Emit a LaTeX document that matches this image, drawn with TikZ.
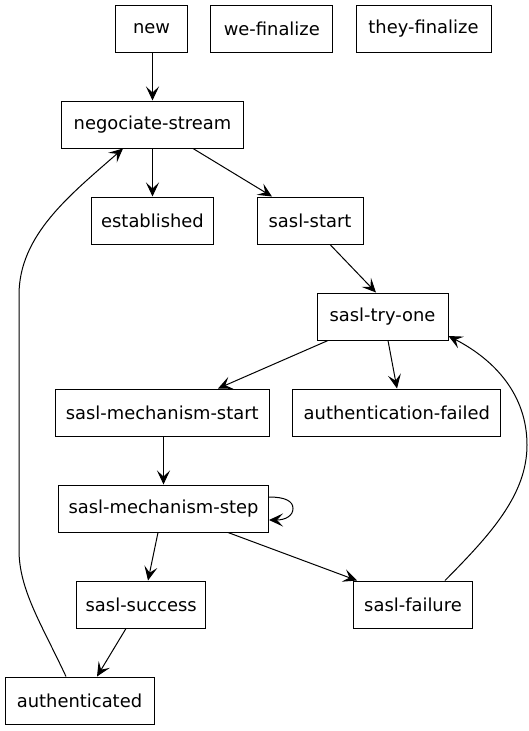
\documentclass[tikz,border=0pt]{standalone}
\usepackage{fontspec}
\setmainfont{DejaVu Sans}
\usetikzlibrary{arrows.meta}
\begin{document}
\begin{tikzpicture}[x=1pt,y=-1pt,
  state/.style={draw,line width=1pt,rectangle,minimum height=47pt,
    inner xsep=0pt,font=\fontsize{17.9}{20}\selectfont},
  edge/.style={line width=1pt,-{Stealth[length=14pt,width=13pt,inset=6pt]}}]
\useasboundingbox (0,0) rectangle (528,731);
\node[state,minimum width=71.7pt] (new) at (151.5,28.5) {new};
\node[state,minimum width=121.7pt] (wef) at (271.8,28.5) {we-finalize};
\node[state,minimum width=135pt] (tf) at (423.5,28.5) {they-finalize};
\node[state,minimum width=182pt] (ns) at (152.5,124.5) {negociate-stream};
\node[state,minimum width=122pt] (est) at (152.5,220.5) {established};
\node[state,minimum width=106pt] (ss) at (310,220.5) {sasl-start};
\node[state,minimum width=131pt] (sto) at (382.5,316.5) {sasl-try-one};
\node[state,minimum width=214.3pt] (sms) at (162.2,412.5) {sasl-mechanism-start};
\node[state,minimum width=208.3pt] (af) at (396.8,412.5) {authentication-failed};
\node[state,minimum width=210pt] (smst) at (163.5,508.5) {sasl-mechanism-step};
\node[state,minimum width=129pt] (succ) at (141.2,604.5) {sasl-success};
\node[state,minimum width=119.3pt] (fail) at (413,604.5) {sasl-failure};
\node[state,minimum width=149pt] (auth) at (79.5,700.5) {authenticated};
\draw[edge] (new.south -| 152.5,0) -- (ns.north -| 152.5,0);
\draw[edge] (ns) -- (est);
\draw[edge] (ns.south -| 193,0) -- (ss.north -| 272,0);
\draw[edge] (ss.south -| 330,0) -- (sto.north -| 376,0);
\draw[edge] (sto.south -| 328,0) -- (sms.north -| 218,0);
\draw[edge] (sto.south -| 388,0) -- (af.north -| 397,0);
\draw[edge] (sms.south -| 163.5,0) -- (smst.north -| 163.5,0);
\draw[edge] (smst.east |- 0,497) .. controls (285,497) and (293,501) .. (293,508.5)
  .. controls (293,516) and (285,520) .. (smst.east |- 0,520);
\draw[edge] (smst.south -| 158,0) -- (succ.north -| 148,0);
\draw[edge] (smst.south -| 228,0) -- (fail.north -| 357,0);
\draw[edge] (succ.south -| 126,0) -- (auth.north -| 97,0);
\draw[edge] (fail.north -| 445,0) .. controls (490,535) and (527,495) .. (527,445)
  .. controls (527,395) and (495,360) .. (sto.east |- 0,336);
\draw[edge] (auth.north -| 66,0) .. controls (42,625) and (19,590) .. (19,550)
  -- (19,295) .. controls (19,235) and (70,195) .. (ns.south -| 123,0);
\end{tikzpicture}
\end{document}
